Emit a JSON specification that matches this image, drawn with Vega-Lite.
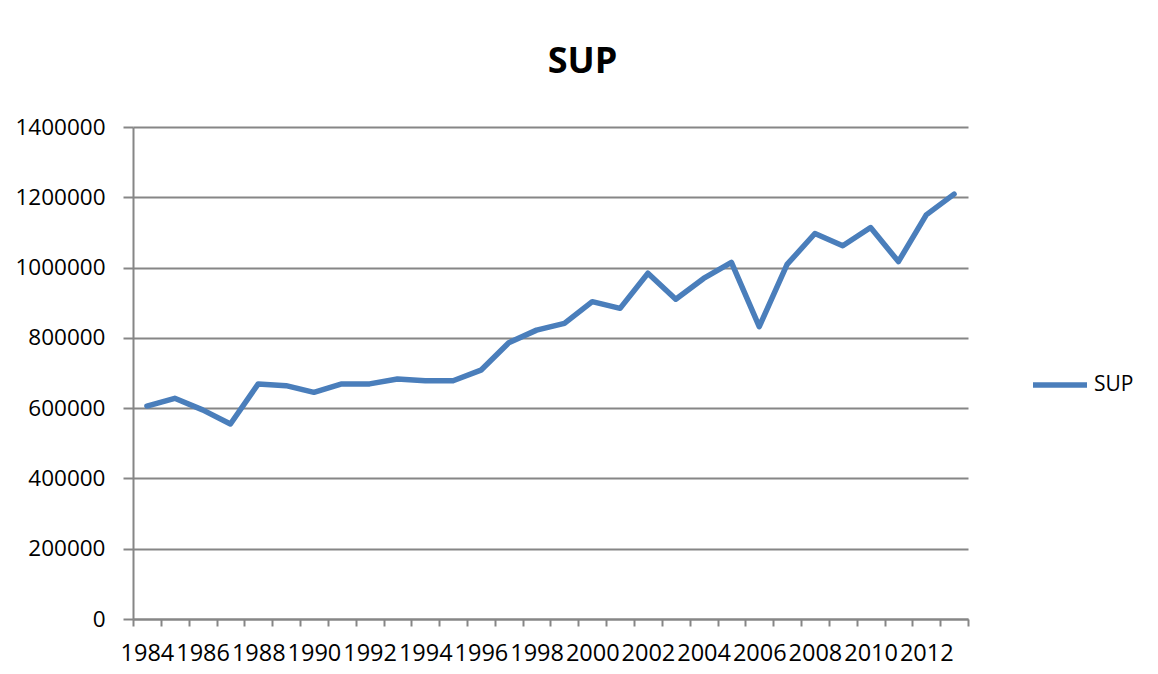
{
  "$schema": "https://vega.github.io/schema/vega-lite/v6.json",
  "width": 835,
  "height": 492,
  "autosize": {"type": "none"},
  "padding": {"left": 133, "top": 127, "right": 190, "bottom": 55},
  "background": "white",
  "title": {
    "text": "SUP",
    "fontSize": 36,
    "fontWeight": "bold",
    "font": "Open Sans",
    "color": "#000000",
    "anchor": "middle",
    "dx": 32,
    "offset": 35
  },
  "data": {
    "values": [
      {"year": 1984, "value": 606000, "series": "SUP"},
      {"year": 1985, "value": 628000, "series": "SUP"},
      {"year": 1986, "value": 595000, "series": "SUP"},
      {"year": 1987, "value": 555000, "series": "SUP"},
      {"year": 1988, "value": 669000, "series": "SUP"},
      {"year": 1989, "value": 664000, "series": "SUP"},
      {"year": 1990, "value": 645000, "series": "SUP"},
      {"year": 1991, "value": 669000, "series": "SUP"},
      {"year": 1992, "value": 669000, "series": "SUP"},
      {"year": 1993, "value": 683000, "series": "SUP"},
      {"year": 1994, "value": 678000, "series": "SUP"},
      {"year": 1995, "value": 678000, "series": "SUP"},
      {"year": 1996, "value": 708000, "series": "SUP"},
      {"year": 1997, "value": 786000, "series": "SUP"},
      {"year": 1998, "value": 822000, "series": "SUP"},
      {"year": 1999, "value": 841000, "series": "SUP"},
      {"year": 2000, "value": 903000, "series": "SUP"},
      {"year": 2001, "value": 884000, "series": "SUP"},
      {"year": 2002, "value": 984000, "series": "SUP"},
      {"year": 2003, "value": 910000, "series": "SUP"},
      {"year": 2004, "value": 969000, "series": "SUP"},
      {"year": 2005, "value": 1015000, "series": "SUP"},
      {"year": 2006, "value": 832000, "series": "SUP"},
      {"year": 2007, "value": 1009000, "series": "SUP"},
      {"year": 2008, "value": 1097000, "series": "SUP"},
      {"year": 2009, "value": 1062000, "series": "SUP"},
      {"year": 2010, "value": 1114000, "series": "SUP"},
      {"year": 2011, "value": 1017000, "series": "SUP"},
      {"year": 2012, "value": 1150000, "series": "SUP"},
      {"year": 2013, "value": 1209000, "series": "SUP"}
    ]
  },
  "mark": {"type": "line", "strokeWidth": 5.5, "strokeCap": "round", "strokeJoin": "round"},
  "encoding": {
    "x": {
      "field": "year",
      "type": "ordinal",
      "scale": {"type": "band", "paddingInner": 0, "paddingOuter": 0},
      "axis": {
        "title": null,
        "labelAngle": 0,
        "labelExpr": "datum.value % 2 == 0 ? datum.label : ''",
        "labelFont": "Open Sans",
        "labelFontSize": 23.5,
        "labelColor": "#000000",
        "labelPadding": 15,
        "labelOverlap": false,
        "tickBand": "extent",
        "tickSize": 7,
        "tickWidth": 2,
        "tickColor": "#868686",
        "domainColor": "#868686",
        "domainWidth": 2,
        "grid": false
      }
    },
    "y": {
      "field": "value",
      "type": "quantitative",
      "scale": {"domain": [0, 1400000], "nice": false, "zero": true},
      "axis": {
        "title": null,
        "values": [0, 200000, 400000, 600000, 800000, 1000000, 1200000, 1400000],
        "format": "d",
        "labelFont": "Open Sans",
        "labelFontSize": 22.5,
        "labelColor": "#000000",
        "labelPadding": 18,
        "tickSize": 10,
        "tickWidth": 2,
        "tickColor": "#868686",
        "domainColor": "#868686",
        "domainWidth": 2,
        "grid": true,
        "gridColor": "#868686",
        "gridWidth": 2
      }
    },
    "color": {
      "field": "series",
      "type": "nominal",
      "scale": {"range": ["#4A7EBB"]},
      "legend": {
        "title": null,
        "orient": "none",
        "legendX": 897,
        "legendY": 228,
        "symbolType": "stroke",
        "symbolSize": 2916,
        "symbolStrokeWidth": 5.5,
        "labelFont": "Open Sans",
        "labelFontSize": 21,
        "labelColor": "#000000",
        "labelOffset": 4
      }
    }
  },
  "config": {
    "view": {"stroke": null}
  }
}
